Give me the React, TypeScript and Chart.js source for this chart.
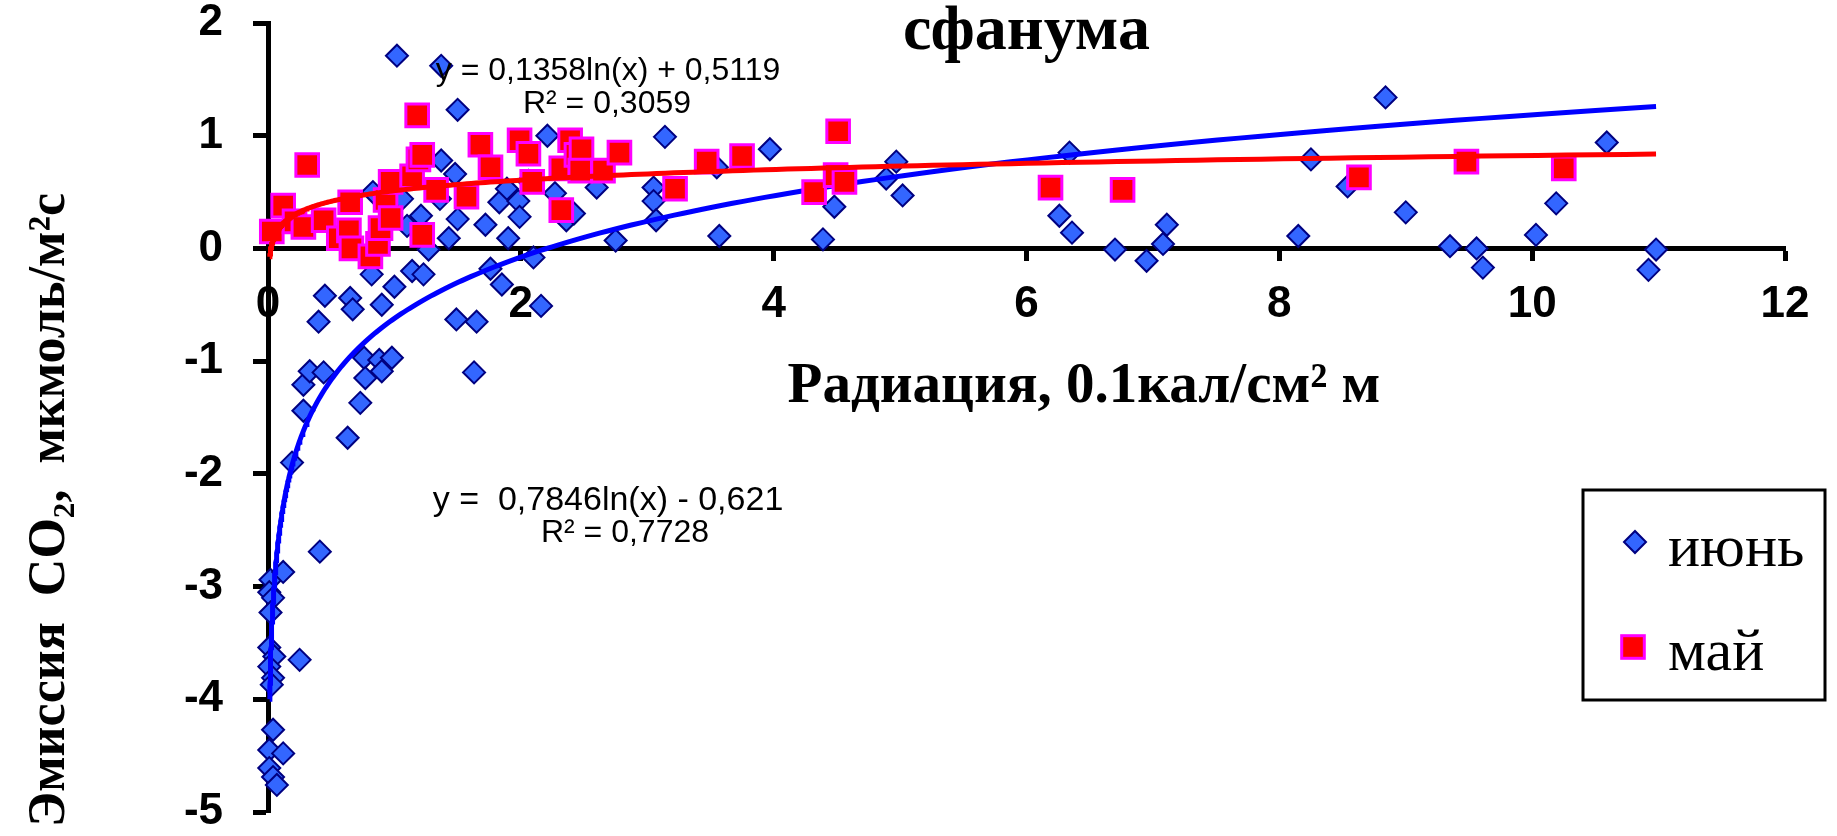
import React, { useEffect, useRef } from 'react';
import { Chart, registerables } from 'chart.js';

Chart.register(...registerables);

// ---- texts ----
const CHART_TITLE = 'сфанума';
const X_TITLE = 'Радиация, 0.1кал/см² м';
const Y_TITLE = 'Эмиссия  CO₂,  мкмоль/м²с';
const JUNE_LABEL = 'июнь';
const MAY_LABEL = 'май';

// ---- axes ----
const X_MIN = 0;
const X_MAX = 12;
const X_STEP = 2;
const Y_MIN = -5;
const Y_MAX = 2;
const Y_STEP = 1;

// ---- июнь (June) ----
const juneX = [
  0.02, 0.01, 0.04, 0.02, 0.01, 0.05, 0.01, 0.04, 0.03, 0.04, 0.01, 0.12, 0.01, 0.04, 0.07,
  0.12, 0.25, 0.41, 0.19, 0.28, 0.63, 0.73, 0.28, 0.33, 0.44, 0.76, 0.88, 0.98, 0.90, 0.77,
  1.63, 0.40, 1.49, 1.65, 0.45, 0.65, 0.67, 0.90, 0.82, 1.14, 1.23, 1.00, 2.16, 1.76, 1.85,
  2.10, 1.27, 1.02, 1.37, 1.50, 2.21, 3.14, 1.37, 1.48, 1.36, 1.50, 1.43, 0.83, 1.06, 1.21,
  1.10, 1.72, 1.90, 1.83, 1.89, 1.98, 1.99, 2.06, 2.27, 2.36, 2.42, 2.60, 2.75, 3.05, 3.05,
  3.07, 3.55, 3.57, 3.97, 4.39, 4.48, 4.89, 4.97, 5.02, 6.26, 6.34, 6.36, 6.70, 6.95, 7.08,
  7.11, 8.15, 8.25, 8.54, 8.84, 9.00, 9.35, 9.56, 9.61, 10.03, 10.19, 10.59, 10.98, 10.92,
];
const juneY = [
  -2.94, -3.05, -3.10, -3.23, -3.54, -3.62, -3.71, -3.81, -3.87, -4.27, -4.45, -4.48, -4.61, -4.69, -4.76,
  -2.87, -3.65, -2.69, -1.90, -1.44, -1.68, -1.37, -1.21, -1.09, -1.10, -0.97, -0.99, -0.97, -1.09, -1.15,
  -1.10, -0.65, -0.63, -0.65, -0.42, -0.44, -0.54, -0.50, -0.23, -0.20, -0.23, -0.34, -0.51, -0.18, -0.32,
  -0.08, -0.01, 1.71, 1.62, 1.23, 1.00, 0.99, 0.78, 0.66, 0.44, 0.26, 0.09, 0.50, 0.44, 0.29,
  0.20, 0.21, 0.09, 0.41, 0.53, 0.42, 0.28, 0.60, 0.49, 0.25, 0.31, 0.54, 0.07, 0.54, 0.42,
  0.25, 0.72, 0.11, 0.88, 0.08, 0.37, 0.62, 0.77, 0.47, 0.29, 0.85, 0.14, -0.01, -0.11, 0.04,
  0.21, 0.11, 0.79, 0.55, 1.34, 0.32, 0.02, 0.00, -0.17, 0.12, 0.40, 0.94, -0.01, -0.19,
];

// ---- май (May) ----
const mayX = [
  0.03, 0.12, 0.21, 0.28, 0.31, 0.44, 0.56, 0.64, 0.65, 0.66, 0.81, 0.87, 0.89, 0.93, 0.97,
  0.97, 1.14, 1.19, 1.22, 1.18, 1.22, 1.33, 1.57, 1.68, 1.76, 1.99, 2.06, 2.09, 2.32, 2.32,
  2.39, 2.44, 2.48, 2.47, 2.65, 2.78, 3.22, 3.47, 3.75, 4.32, 4.49, 4.56, 4.51, 6.19, 6.76,
  8.63, 9.48, 10.25,
];
const mayY = [
  0.15, 0.38, 0.24, 0.19, 0.74, 0.25, 0.09, 0.16, 0.41, 0.00, -0.07, 0.04, 0.18, 0.43, 0.27,
  0.59, 0.64, 0.79, 0.83, 1.18, 0.12, 0.52, 0.46, 0.92, 0.72, 0.96, 0.84, 0.59, 0.34, 0.71,
  0.96, 0.83, 0.88, 0.69, 0.69, 0.85, 0.53, 0.77, 0.82, 0.50, 0.65, 0.59, 1.04, 0.54, 0.52,
  0.63, 0.77, 0.71,
];

// ---- logarithmic trendlines as printed on the chart ----
const juneTrendCoef = [0.7846, -0.621];
const mayTrendCoef = [0.1358, 0.5119];
const juneEquation = ['y =  0,7846ln(x) - 0,621', 'R² = 0,7728'];
const mayEquation = ['y = 0,1358ln(x) + 0,5119', 'R² = 0,3059'];
const trendRange = [0.0135, 10.98];
const TREND_SAMPLES = 300;

const trendPoints = (coef: number[]) => {
  const [x0, x1] = trendRange;
  const pts: { x: number; y: number }[] = [];
  for (let i = 0; i <= TREND_SAMPLES; i++) {
    const t = i / TREND_SAMPLES;
    const xl = x0 * Math.pow(x1 / x0, t);
    const xlin = x0 + (x1 - x0) * t;
    const x = Math.min(xl, xlin);
    pts.push({ x, y: coef[0] * Math.log(x) + coef[1] });
  }
  pts.sort((a, b) => a.x - b.x);
  return pts;
};

const SERIF = '"Liberation Serif", "Times New Roman", serif';
const SANS = '"Liberation Sans", Arial, sans-serif';

const JUNE_FILL = '#3366ff';
const JUNE_EDGE = '#000080';
const MAY_FILL = '#ff0000';
const MAY_EDGE = '#ff00ff';

const overlayPlugin = {
  id: 'overlay',
  afterDraw(chart: any) {
    const ctx: CanvasRenderingContext2D = chart.ctx;
    ctx.save();
    ctx.fillStyle = '#000';

    // equations
    ctx.textAlign = 'center';
    ctx.textBaseline = 'alphabetic';
    ctx.font = `32px ${SANS}`;
    ctx.fillText(mayEquation[0], 608, 80);
    ctx.fillText(mayEquation[1], 607, 113);
    ctx.font = `34px ${SANS}`;
    ctx.fillText(juneEquation[0], 608, 510);
    ctx.font = `32px ${SANS}`;
    ctx.fillText(juneEquation[1], 625, 542);

    // x axis title
    ctx.font = `bold 57px ${SERIF}`;
    ctx.fillText(X_TITLE, 1084, 402);

    // y axis title
    ctx.save();
    ctx.translate(64, 510);
    ctx.rotate(-Math.PI / 2);
    ctx.font = `bold 52px ${SERIF}`;
    ctx.fillText(Y_TITLE, 0, 0);
    ctx.restore();

    // legend
    ctx.lineWidth = 3;
    ctx.strokeStyle = '#000';
    ctx.strokeRect(1583, 490, 242, 210);
    const dx = 1635, dy = 542, r = 11;
    ctx.beginPath();
    ctx.moveTo(dx - r, dy);
    ctx.lineTo(dx, dy - r);
    ctx.lineTo(dx + r, dy);
    ctx.lineTo(dx, dy + r);
    ctx.closePath();
    ctx.fillStyle = JUNE_FILL;
    ctx.fill();
    ctx.lineWidth = 2;
    ctx.strokeStyle = JUNE_EDGE;
    ctx.stroke();
    const s = 22.6;
    ctx.fillStyle = MAY_FILL;
    ctx.fillRect(1633 - s / 2, 647 - s / 2, s, s);
    ctx.lineWidth = 3;
    ctx.strokeStyle = MAY_EDGE;
    ctx.strokeRect(1633 - s / 2, 647 - s / 2, s, s);

    ctx.fillStyle = '#000';
    ctx.font = `60px ${SERIF}`;
    ctx.textAlign = 'left';
    ctx.fillText(JUNE_LABEL, 1668, 566);
    ctx.fillText(MAY_LABEL, 1668, 670);
    ctx.restore();
  },
};

export default function App() {
  const canvasRef = useRef<HTMLCanvasElement | null>(null);

  useEffect(() => {
    const canvas = canvasRef.current;
    if (!canvas) return;
    const tickFont = { family: SANS, size: 44, weight: 'bold' as const };
    const chart = new Chart(canvas, {
      type: 'scatter',
      data: {
        datasets: [
          {
            label: 'trend ' + MAY_LABEL,
            data: trendPoints(mayTrendCoef),
            showLine: true,
            borderColor: '#ff0000',
            borderWidth: 5,
            pointRadius: 0,
            fill: false,
            clip: false,
          } as any,
          {
            label: MAY_LABEL,
            data: mayX.map((x, i) => ({ x, y: mayY[i] })),
            pointStyle: 'rect',
            pointRadius: 16,
            backgroundColor: MAY_FILL,
            borderColor: MAY_EDGE,
            borderWidth: 3,
            clip: false,
          } as any,
          {
            label: 'trend ' + JUNE_LABEL,
            data: trendPoints(juneTrendCoef),
            showLine: true,
            borderColor: '#0000ff',
            borderWidth: 5,
            pointRadius: 0,
            fill: false,
            clip: false,
          } as any,
          {
            label: JUNE_LABEL,
            data: juneX.map((x, i) => ({ x, y: juneY[i] })),
            pointStyle: 'rectRot',
            pointRadius: 11,
            backgroundColor: JUNE_FILL,
            borderColor: JUNE_EDGE,
            borderWidth: 2,
            clip: false,
          } as any,
        ],
      },
      options: {
        responsive: false,
        animation: false,
        devicePixelRatio: 1,
        layout: { padding: { left: 0, right: 52, top: 0, bottom: 24 } },
        plugins: {
          legend: { display: false },
          tooltip: { enabled: false },
          title: {
            display: true,
            text: CHART_TITLE,
            fullSize: false,
            color: '#000',
            font: { family: SERIF, size: 64, weight: 'bold', lineHeight: 1 },
            padding: { top: 0, bottom: -41 },
          },
        },
        scales: {
          x: {
            type: 'linear',
            min: X_MIN,
            max: X_MAX,
            position: { y: 0 } as any,
            ticks: { stepSize: X_STEP, color: '#000', font: tickFont, padding: 20, maxRotation: 0 },
            grid: { drawOnChartArea: false, drawTicks: true, tickLength: 10, tickWidth: 5, tickColor: '#000' },
            border: { display: true, color: '#000', width: 5 },
            afterFit: (s: any) => {
              s.height = 0;
              s.paddingLeft = 0;
              s.paddingRight = 0;
              s.paddingTop = 0;
              s.paddingBottom = 0;
            },
          },
          y: {
            type: 'linear',
            min: Y_MIN,
            max: Y_MAX,
            ticks: { stepSize: Y_STEP, color: '#000', font: tickFont, padding: 30 },
            grid: { drawOnChartArea: false, drawTicks: true, tickLength: 15, tickWidth: 5, tickColor: '#000' },
            border: { display: true, color: '#000', width: 5 },
            afterFit: (s: any) => {
              s.width = 268;
              s.paddingLeft = 0;
              s.paddingRight = 0;
              s.paddingTop = 0;
              s.paddingBottom = 0;
            },
          },
        },
      } as any,
      plugins: [overlayPlugin],
    });
    return () => chart.destroy();
  }, []);

  return (
    <div style={{ position: 'absolute', left: 0, top: 0, width: 1837, height: 836, background: '#fff' }}>
      <canvas ref={canvasRef} width={1837} height={836} style={{ display: 'block' }} />
    </div>
  );
}
